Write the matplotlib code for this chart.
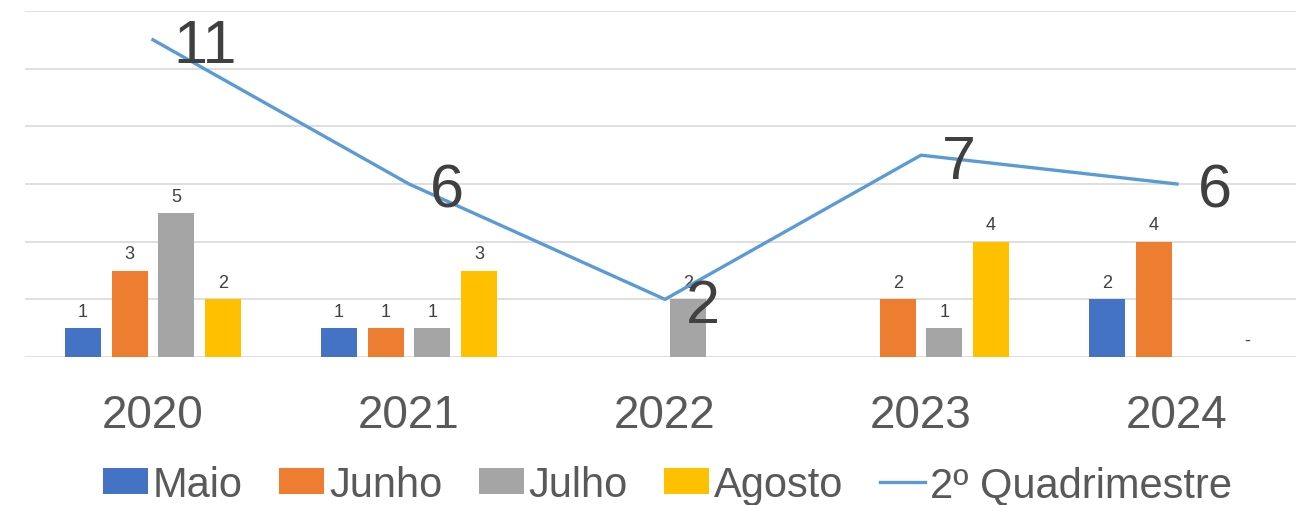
import matplotlib
matplotlib.use('Agg')
import matplotlib.pyplot as plt
import numpy as np

# dados
anos = ['2020', '2021', '2022', '2023', '2024']
maio = [1, 1, None, None, 2]
junho = [3, 1, None, 2, 4]
julho = [5, 1, 2, 1, None]
agosto = [2, 3, None, 4, 0]
quadrimestre = [11, 6, 2, 7, 6]

series = [('Maio', maio, '#4472C4'),
          ('Junho', junho, '#ED7D31'),
          ('Julho', julho, '#A5A5A5'),
          ('Agosto', agosto, '#FFC000')]

plt.rcParams['font.family'] = ['Liberation Sans', 'DejaVu Sans']

fig = plt.figure(figsize=(12.96, 5.06), dpi=100)
ax = fig.add_axes([25/1296, 1 - 358/506, 1280/1296, 346/506])

x = np.arange(len(anos))
passo = 0.182
largura = 0.141

for i, (nome, vals, cor) in enumerate(series):
    pos = x + (i - 1.5) * passo
    alturas = [v if v is not None else 0 for v in vals]
    ax.bar(pos, alturas, largura, color=cor, label=nome, zorder=2)
    for p, v in zip(pos, vals):
        if v is None:
            continue
        txt = '-' if v == 0 else str(v)
        ax.annotate(txt, (p, v), xytext=(0, 6), textcoords='offset points',
                    ha='center', va='bottom', fontsize=13, color='#404040')

ax.plot(x, quadrimestre, color='#5B9BD5', linewidth=2.4, label='2º Quadrimestre', zorder=3)
for xi, v in zip(x, quadrimestre):
    ax.annotate(str(v), (xi, v), xytext=(15, -5), textcoords='offset points',
                ha='left', va='center', fontsize=44, color='#404040', zorder=4)

ax.set_xlim(-0.5, 4.5)
ax.set_ylim(0, 12)
ax.set_yticks(range(0, 13, 2))
ax.set_yticklabels([])
ax.set_xticks(x)
ax.set_xticklabels(anos, fontsize=33, color='#595959')
ax.tick_params(axis='x', length=0, pad=26)
ax.tick_params(axis='y', length=0)
ax.grid(axis='y', color='#D9D9D9', linewidth=1.2, zorder=0)
ax.set_axisbelow(True)
for s in ax.spines.values():
    s.set_visible(False)

# linha por último na legenda
h, l = ax.get_legend_handles_labels()
ordem = [1, 2, 3, 4, 0]
fig.legend([h[i] for i in ordem], [l[i] for i in ordem],
           loc='center', bbox_to_anchor=(0.515, 0.04), ncol=5, frameon=False,
           fontsize=30, labelcolor='#595959', handlelength=1.08, handleheight=0.6,
           handletextpad=0.12, columnspacing=0.87)

fig.savefig('out.png', dpi=100)
